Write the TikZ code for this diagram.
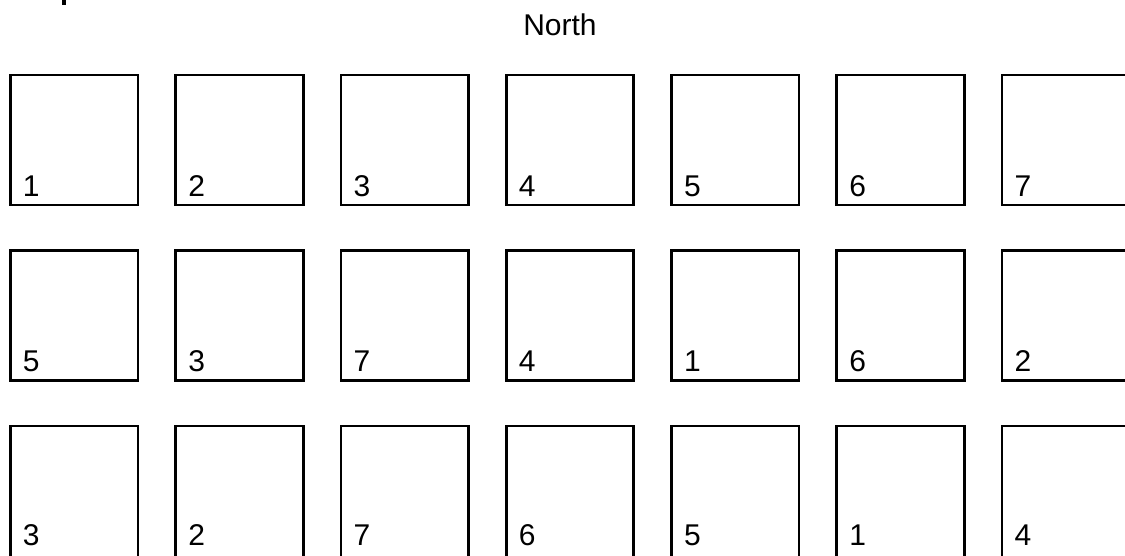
\documentclass[tikz,border=0pt]{standalone}
\usepackage{fontspec}
\setmainfont{Liberation Sans}
\begin{document}
\begin{tikzpicture}[x=1pt,y=-1pt,
  cell/.style={draw=black,line width=2.7pt,minimum width=127.5pt,minimum height=130pt,inner sep=0pt,outer sep=0pt},
  lbl/.style={anchor=base west,inner sep=0pt,outer sep=0pt,font=\fontsize{30}{36}\selectfont}]
\useasboundingbox (0,0) rectangle (1125,555);
\clip (0,0) rectangle (1125,555);
\fill[black] (62,0) rectangle (66,5);
\node[lbl,anchor=base] (north) at (560,35) {North};
\foreach \r/\yc/\h/\ys/\labels in {1/140/130/8.5/{1,2,3,4,5,6,7},2/315.75/130/9.2/{5,3,7,4,1,6,2},3/493/134/15/{3,2,7,6,5,1,4}}{
  \foreach \lab [count=\c from 0] in \labels {
    \node[cell,minimum height=\h pt] (b\r-\c) at ({74.25+165.25*\c},\yc) {};
    \node[lbl] (t\r-\c) at ([xshift=12.5pt,yshift=\ys pt]b\r-\c.south west) {\lab};
  }
}
\end{tikzpicture}
\end{document}
